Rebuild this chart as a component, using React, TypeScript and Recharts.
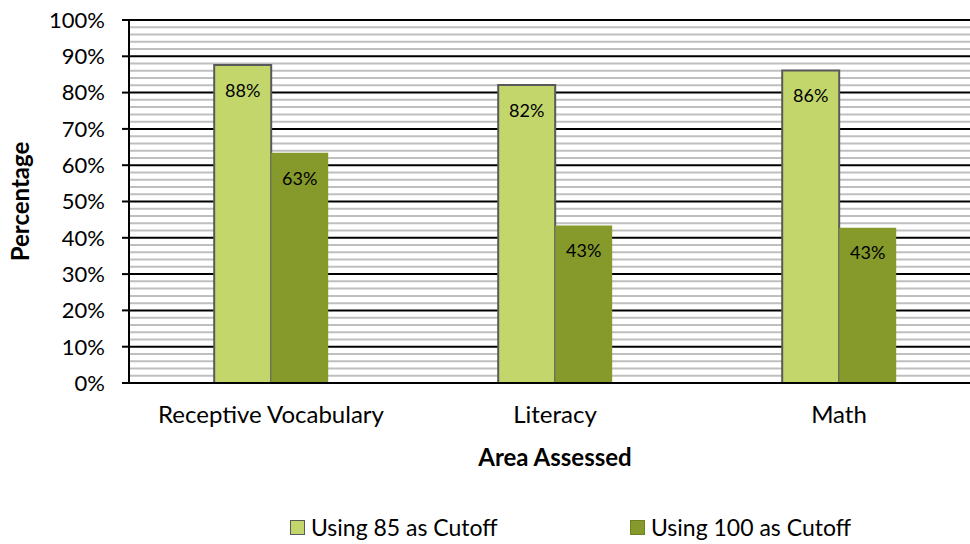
import { BarChart, Bar, XAxis, YAxis, CartesianGrid, Legend, LabelList } from 'recharts';

const categories = ['Receptive Vocabulary', 'Literacy', 'Math'];
const cutoff85 = [87.6, 82.1, 86.1];
const cutoff100 = [63.4, 43.4, 42.8];
const majorTicks = [0, 10, 20, 30, 40, 50, 60, 70, 80, 90, 100];
const minorTicks = [2, 4, 6, 8, 12, 14, 16, 18, 22, 24, 26, 28, 32, 34, 36, 38, 42, 44, 46, 48, 52, 54, 56, 58, 62, 64, 66, 68, 72, 74, 76, 78, 82, 84, 86, 88, 92, 94, 96, 98];

const data = categories.map((name, i) => ({ name, c85: cutoff85[i], c100: cutoff100[i] }));

const FONT = 'Lato, "Noto Sans", sans-serif';
const LIGHT = '#c3d66b';
const DARK = '#86992b';

const legendItems = [
    { label: 'Using 85 as Cutoff', fill: LIGHT, stroke: '#595959', left: 290 },
    { label: 'Using 100 as Cutoff', fill: DARK, stroke: '#6f8023', left: 630 },
];

function LegendBox() {
    return (
        <div style={{ position: 'relative', height: 30, fontFamily: FONT, fontSize: 23, color: '#000' }}>
            {legendItems.map((it) => (
                <div key={it.label} style={{ position: 'absolute', left: it.left, top: 0, height: 30, display: 'flex', alignItems: 'center', whiteSpace: 'nowrap' }}>
                    <span style={{ display: 'inline-block', width: 13, height: 13, background: it.fill, border: `1.5px solid ${it.stroke}`, marginRight: 6 }} />
                    <span>{it.label}</span>
                </div>
            ))}
        </div>
    );
}

export default function App() {
    return (
        <div style={{ position: 'absolute', top: 0, left: 0, width: 970, height: 544, overflow: 'hidden', fontFamily: FONT }}>
            <BarChart
                width={983}
                height={544}
                data={data}
                margin={{ top: 20, right: 2, left: 8, bottom: 36 }}
                barCategoryGap="30%"
                barGap={0}
            >
                <CartesianGrid horizontalValues={minorTicks} vertical={false} stroke="#bfbfbf" strokeWidth={2} />
                <CartesianGrid horizontalValues={majorTicks} vertical={false} stroke="#000" strokeWidth={2} />
                <XAxis
                    dataKey="name"
                    height={95}
                    tickLine={false}
                    tickSize={0}
                    tickMargin={23}
                    axisLine={{ stroke: '#000', strokeWidth: 2 }}
                    tick={{ fill: '#000', fontSize: 24, fontFamily: FONT }}
                    label={{ value: 'Area Assessed', position: 'insideBottom', offset: 12, fill: '#000', fontSize: 24, fontWeight: 'bold', fontFamily: FONT }}
                />
                <YAxis
                    width={121}
                    domain={[0, 100]}
                    ticks={majorTicks}
                    interval={0}
                    tickFormatter={(v: number) => `${v}%`}
                    tickSize={7}
                    tickMargin={17}
                    tickLine={{ stroke: '#000', strokeWidth: 2 }}
                    axisLine={{ stroke: '#000', strokeWidth: 2 }}
                    tick={{ fill: '#000', fontSize: 22, fontFamily: FONT }}
                    label={{ value: 'Percentage', angle: -90, position: 'insideLeft', offset: 12, textAnchor: 'middle', fill: '#000', fontSize: 24, fontWeight: 'bold', fontFamily: FONT }}
                />
                <Legend verticalAlign="bottom" content={() => <LegendBox />} wrapperStyle={{ bottom: 2, left: 0, width: 970, height: 30 }} />
                <Bar dataKey="c85" fill={LIGHT} stroke="#595959" strokeWidth={2} isAnimationActive={false}>
                    <LabelList dataKey="c85" position="insideTop" offset={19} formatter={(v: number) => `${Math.round(v)}%`} fill="#000" fontSize={18} fontFamily={FONT} />
                </Bar>
                <Bar dataKey="c100" fill={DARK} isAnimationActive={false}>
                    <LabelList dataKey="c100" position="insideTop" offset={19} formatter={(v: number) => `${Math.round(v)}%`} fill="#000" fontSize={18} fontFamily={FONT} />
                </Bar>
            </BarChart>
        </div>
    );
}
